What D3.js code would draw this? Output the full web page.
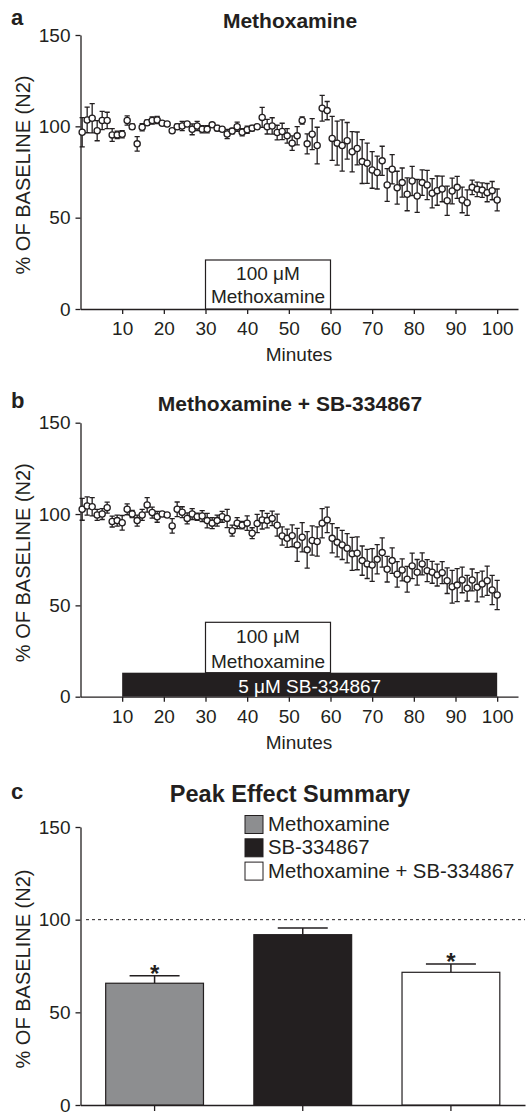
<!DOCTYPE html>
<html>
<head>
<meta charset="utf-8">
<script src="https://cdn.jsdelivr.net/npm/d3@7"></script>
<style>
  body { margin: 0; background: #fff; }
  svg { display: block; font-family: "Liberation Sans", Arial, Helvetica, sans-serif; }
</style>
</head>
<body>
<script>
// sampling times (minutes), shared by panels a and b
const times = [0.4, 1.6, 2.8, 4.0, 5.2, 6.4, 7.6, 8.8, 10.0, 11.2,
  12.4, 13.6, 14.8, 16.0, 17.2, 18.4, 19.6, 20.8, 22.0, 23.2,
  24.4, 25.6, 26.8, 28.0, 29.2, 30.4, 31.6, 32.8, 34.0, 35.2,
  36.4, 37.6, 38.8, 40.0, 41.2, 42.4, 43.6, 44.8, 46.0, 47.2,
  48.4, 49.6, 50.8, 52.0, 53.2, 54.4, 55.6, 56.8, 58.0, 59.2,
  60.4, 61.6, 62.8, 64.0, 65.2, 66.4, 67.6, 68.8, 70.0, 71.2,
  72.4, 73.6, 74.8, 76.0, 77.2, 78.4, 79.6, 80.8, 82.0, 83.2,
  84.4, 85.6, 86.8, 88.0, 89.2, 90.4, 91.6, 92.8, 94.0, 95.2,
  96.4, 97.6, 98.8, 100.0]

// panel a: methoxamine alone
const methoxValues = [96.8, 103.5, 104.4, 97.6, 103.2, 103.2, 95.3, 95.3, 95.7, 103.2,
  99.8, 90.4, 99.5, 102.0, 103.2, 103.5, 101.7, 101.3, 97.6, 99.8,
  100.2, 101.3, 98.4, 100.2, 98.4, 98.4, 100.8, 99.0, 98.4, 95.8,
  97.4, 99.8, 96.8, 98.1, 99.0, 99.8, 104.9, 99.8, 100.2, 96.6,
  97.2, 94.8, 90.8, 94.8, 103.2, 90.4, 95.7, 89.5, 109.9, 108.6,
  93.4, 90.8, 89.5, 92.1, 86.1, 87.9, 80.7, 79.8, 76.1, 74.7,
  81.1, 67.9, 76.5, 66.4, 69.2, 62.8, 70.1, 61.9, 69.2, 67.9,
  63.4, 64.8, 65.7, 59.3, 64.6, 66.6, 59.7, 58.2, 66.6, 65.5,
  65.1, 63.7, 64.8, 59.7]
const methoxErrors = [8, 7, 8, 5.5, 5, 4.5, 3.5, 2, 2, 2.5,
  1.5, 4, 2, 1.5, 2, 2, 1, 1, 1, 1.5,
  2.5, 1, 3, 2.5, 2, 2, 1, 1.5, 1, 2.5,
  1.5, 2.5, 2, 2, 1.5, 1, 5.5, 4, 4.5, 4,
  4.5, 4, 4, 5, 2, 5.5, 8.5, 10, 7, 5,
  12, 12, 14, 10, 11, 9, 12, 11, 10, 9,
  8, 9, 8, 9, 8, 9, 8, 9, 7, 8,
  8, 8, 7, 8, 7, 6, 7, 7, 4, 4,
  4, 5, 5, 6]

// panel b: methoxamine + SB-334867
const comboValues = [102.6, 104.4, 104.0, 99.5, 100.0, 103.5, 95.9, 96.4, 95.2, 102.6,
  100.0, 96.4, 99.5, 105.0, 100.8, 98.5, 100.0, 99.5, 93.5, 102.6,
  101.0, 97.6, 100.0, 98.5, 98.9, 96.4, 95.0, 96.4, 98.5, 97.6,
  90.9, 95.0, 93.9, 95.0, 89.5, 94.8, 96.8, 96.4, 97.6, 93.9,
  88.0, 86.7, 88.1, 83.1, 87.3, 80.4, 85.5, 85.0, 95.0, 96.8,
  86.7, 84.5, 83.1, 81.3, 78.2, 78.5, 74.5, 72.7, 72.1, 75.2,
  78.9, 69.8, 74.5, 67.0, 69.4, 64.3, 71.6, 68.1, 72.7, 69.0,
  68.1, 66.6, 67.9, 63.5, 60.2, 61.1, 63.9, 59.4, 63.9, 59.9,
  61.7, 63.5, 58.4, 55.7]
const comboErrors = [6, 5, 5, 3, 3, 3, 3, 3, 4, 3,
  2, 3, 3, 4, 3, 3, 1, 1, 4, 4,
  3, 3, 3, 2, 3, 4, 3, 3, 3, 5,
  3, 3, 2, 4, 3, 5, 5, 4, 4, 6,
  5, 5, 6, 9, 8, 10, 8, 8, 8, 7,
  8, 8, 8, 8, 9, 9, 8, 8, 9, 8,
  8, 7, 7, 7, 6, 7, 7, 7, 6, 6,
  6, 6, 6, 7, 9, 9, 7, 7, 6, 8,
  7, 8, 8, 8]

// panel c: peak effect summary
const summaryNames = ["Methoxamine", "SB-334867", "Methoxamine + SB-334867"]
const summaryValues = [65.7, 91.9, 71.6]
const summaryErrors = [4, 3.6, 4.5]
const summaryStars = ["*", "", "*"]

const yTicks = [0, 50, 100, 150]
const xTicks = [10, 20, 30, 40, 50, 60, 70, 80, 90, 100]

const ink = "#231f20"
const summaryFill = ["#8d8e90", ink, "#ffffff"]

let svg = d3.select("body").append("svg").attr("width", 531).attr("height", 1115)

let xTime = d3.scaleLinear().domain([0, 105]).range([80.5, 518])

function styleAxis(g) {
  g.attr("font-size", 19).attr("font-family", null)
  g.selectAll("path, line").attr("stroke", ink).attr("stroke-width", 1.3)
  g.selectAll("text").attr("fill", ink)
}

function header(top, letter, title, titleSize) {
  svg.append("text").attr("x", 11).attr("y", top)
    .attr("font-size", 22).attr("font-weight", "bold").attr("fill", ink).text(letter)
  svg.append("text").attr("x", 290).attr("y", top + 3).attr("text-anchor", "middle")
    .attr("font-size", titleSize).attr("font-weight", "bold").attr("fill", ink).text(title)
}

function yLabel(y) {
  let mid = (y.range()[0] + y.range()[1]) / 2
  svg.append("text")
    .attr("transform", `translate(23,${mid + 3}) rotate(-90)`)
    .attr("text-anchor", "middle").attr("dy", "0.35em")
    .attr("font-size", 20).attr("fill", ink)
    .text("% OF BASELINE (N2)")
}

function timePanel(bottom, values, errors) {
  let y = d3.scaleLinear().domain([0, 150]).range([bottom, bottom - 274])

  svg.append("g").attr("transform", `translate(${xTime.range()[0]},0)`)
    .call(d3.axisLeft(y).tickValues(yTicks).tickSize(5).tickSizeOuter(0).tickPadding(5))
    .call(styleAxis)

  svg.append("g").attr("transform", `translate(0,${y(0)})`)
    .call(d3.axisBottom(xTime).tickValues(xTicks).tickSize(5).tickSizeOuter(0).tickPadding(8))
    .call(styleAxis)

  svg.append("text").attr("x", 299).attr("y", bottom + 52).attr("text-anchor", "middle")
    .attr("font-size", 19).attr("fill", ink).text("Minutes")

  yLabel(y)

  let pts = times.map((t, i) => ({t: t, v: values[i], e: errors[i]}))

  let bars = svg.append("g").attr("stroke", ink).attr("stroke-width", 1.3)
  bars.selectAll("path").data(pts).enter().append("path")
    .attr("fill", "none")
    .attr("d", d => {
      let cx = xTime(d.t), lo = y(d.v - d.e), hi = y(d.v + d.e)
      return `M${cx},${lo}V${hi}M${cx - 2.6},${hi}H${cx + 2.6}M${cx - 2.6},${lo}H${cx + 2.6}`
    })

  svg.append("g").selectAll("circle").data(pts).enter().append("circle")
    .attr("cx", d => xTime(d.t))
    .attr("cy", d => y(d.v))
    .attr("r", 3.1)
    .attr("fill", "#fff")
    .attr("stroke", ink)
    .attr("stroke-width", 1.3)

  return y
}

function methoxBox(y, base, topOff, line1, line2) {
  let x0 = xTime(30), x1 = xTime(60)
  svg.append("rect").attr("x", x0).attr("y", base - topOff)
    .attr("width", x1 - x0).attr("height", topOff)
    .attr("fill", "#fff").attr("stroke", ink).attr("stroke-width", 1.2)
  svg.append("text").attr("x", (x0 + x1) / 2).attr("y", base - line1).attr("text-anchor", "middle")
    .attr("font-size", 19).attr("fill", ink).text("100 \u03bcM")
  svg.append("text").attr("x", (x0 + x1) / 2).attr("y", base - line2).attr("text-anchor", "middle")
    .attr("font-size", 19).attr("fill", ink).text("Methoxamine")
}

// ---- panel a
header(25, "a", "Methoxamine", 21)
let yA = timePanel(309, methoxValues, methoxErrors)
methoxBox(yA, yA(0), 49, 29, 6)

// ---- panel b
header(408, "b", "Methoxamine + SB-334867", 21)
let yB = timePanel(696.7, comboValues, comboErrors)
methoxBox(yB, yB(0) - 24, 50.4, 29.4, 4.4)
svg.append("rect").attr("x", xTime(10)).attr("y", yB(0) - 24)
  .attr("width", xTime(100) - xTime(10)).attr("height", 24)
  .attr("fill", ink)
svg.append("text").attr("x", (xTime(10) + xTime(100)) / 2).attr("y", yB(0) - 4)
  .attr("text-anchor", "middle").attr("font-size", 19).attr("fill", "#fff")
  .text("5 \u03bcM SB-334867")

// ---- panel c
header(799, "c", "Peak Effect Summary", 23.5)

let yC = d3.scaleLinear().domain([0, 150]).range([1105, 827])
let xC = d3.scaleBand().domain(summaryNames).range([80.5, 525]).paddingInner(0.34).paddingOuter(0.17)

svg.append("g").attr("transform", `translate(${xC.range()[0]},0)`)
  .call(d3.axisLeft(yC).tickValues(yTicks).tickSize(5).tickSizeOuter(0).tickPadding(5))
  .call(styleAxis)

svg.append("g").attr("transform", `translate(0,${yC(0)})`)
  .call(d3.axisBottom(xC).tickSize(6).tickSizeOuter(0).tickFormat(""))
  .call(styleAxis)

yLabel(yC)

svg.append("line").attr("x1", 86).attr("x2", 525)
  .attr("y1", yC(100)).attr("y2", yC(100))
  .attr("stroke", ink).attr("stroke-width", 1).attr("stroke-dasharray", "3,3")

let summary = summaryNames.map((n, i) => ({name: n, v: summaryValues[i], e: summaryErrors[i], star: summaryStars[i], fill: summaryFill[i]}))

svg.append("g").selectAll("path").data(summary).enter().append("path")
  .attr("fill", "none").attr("stroke", ink).attr("stroke-width", 1.5)
  .attr("d", d => {
    let cx = xC(d.name) + xC.bandwidth() / 2
    return `M${cx},${yC(d.v)}V${yC(d.v + d.e)}M${cx - 25},${yC(d.v + d.e)}H${cx + 25}`
  })

svg.append("g").selectAll("rect").data(summary).enter().append("rect")
  .attr("x", d => xC(d.name))
  .attr("y", d => yC(d.v))
  .attr("width", xC.bandwidth())
  .attr("height", d => yC(0) - yC(d.v))
  .attr("fill", d => d.fill)
  .attr("stroke", ink)
  .attr("stroke-width", 1.2)

svg.append("g").selectAll("text").data(summary).enter().append("text")
  .attr("x", d => xC(d.name) + xC.bandwidth() / 2)
  .attr("y", d => yC(d.v + d.e) + 6)
  .attr("text-anchor", "middle")
  .attr("font-size", 24).attr("font-weight", "bold").attr("fill", ink)
  .text(d => d.star)

// legend
let legend = svg.append("g").attr("transform", "translate(245,815.5)")
let item = legend.selectAll("g").data(summary).enter().append("g")
  .attr("transform", (d, i) => `translate(0,${i * 23.3})`)
item.append("rect").attr("width", 18).attr("height", 18)
  .attr("fill", d => d.fill).attr("stroke", ink).attr("stroke-width", 1)
item.append("text").attr("x", 23).attr("y", 15.5)
  .attr("font-size", 20.3).attr("fill", ink)
  .text(d => d.name)
</script>
</body>
</html>
